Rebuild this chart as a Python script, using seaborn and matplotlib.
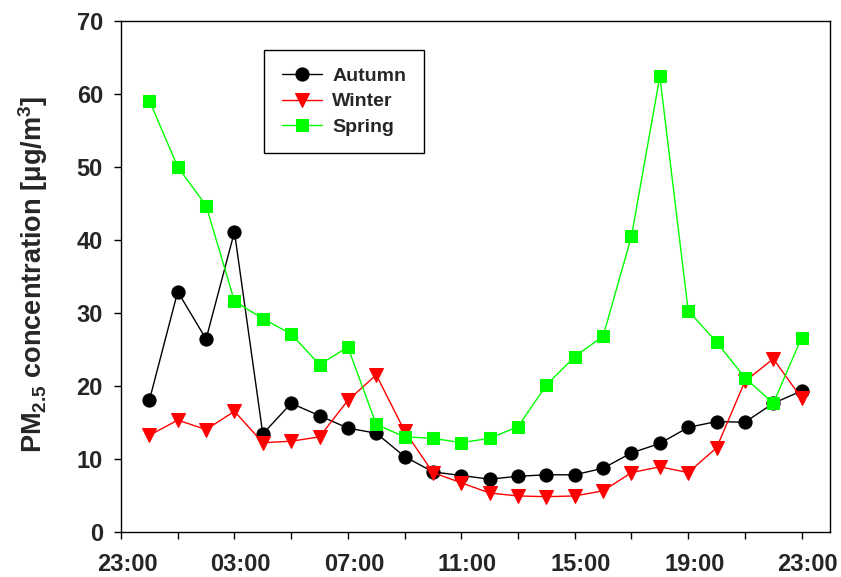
import numpy as np
import pandas as pd
import matplotlib
matplotlib.use("Agg")
import matplotlib.pyplot as plt
import seaborn as sns
from matplotlib.transforms import ScaledTranslation

# Data: hourly positions (1 = 00:00 ... 24 = 23:00); axis position 0 = 23:00 of previous day
hours = list(range(1, 25))
autumn = [18.0, 32.9, 26.4, 41.1, 13.4, 17.6, 15.9, 14.2, 13.5, 10.3, 8.2, 7.7,
          7.2, 7.6, 7.8, 7.8, 8.7, 10.8, 12.1, 14.3, 15.1, 15.0, 17.6, 19.3]
winter = [13.2, 15.3, 14.0, 16.5, 12.2, 12.4, 13.0, 18.0, 21.5, 13.8, 8.1, 6.7,
          5.3, 4.9, 4.8, 4.9, 5.6, 8.1, 8.9, 8.1, 11.5, 20.6, 23.7, 18.3]
spring = [59.1, 50.0, 44.7, 31.6, 29.2, 27.1, 22.9, 25.3, 14.7, 13.0, 12.8, 12.2,
          12.8, 14.4, 20.1, 24.0, 26.8, 40.5, 62.4, 30.3, 26.0, 21.1, 17.6, 26.6]
tick_pos = [0, 4, 8, 12, 16, 20, 24]
tick_labels = ["23:00", "03:00", "07:00", "11:00", "15:00", "19:00", "23:00"]

sns.set_style("ticks")
plt.rcParams["font.family"] = ["Liberation Sans", "DejaVu Sans"]
plt.rcParams["font.weight"] = "bold"
plt.rcParams["mathtext.fontset"] = "custom"
plt.rcParams["mathtext.rm"] = "Liberation Sans:bold"
plt.rcParams["mathtext.bf"] = "Liberation Sans:bold"
plt.rcParams["mathtext.default"] = "bf"

fig = plt.figure(figsize=(8.41, 5.77), dpi=100)
ax = fig.add_axes([121 / 841, 1 - 531.7 / 577, (830 - 121) / 841, (531.7 - 21) / 577])

series = [
    ("Autumn", autumn, "black", "o", 9.5),
    ("Winter", winter, "#ff0000", "v", 9.5),
    ("Spring", spring, "#00ff00", "s", 8.5),
]
for name, vals, col, mk, ms in series:
    sns.lineplot(x=hours, y=vals, ax=ax, color=col, marker=mk, markersize=ms,
                 markeredgecolor=col, markerfacecolor=col, linewidth=1.0,
                 label=name)

ax.set_xlim(0, 25)
ax.set_ylim(0, 70)
ax.set_xticks(tick_pos)
ax.set_xticklabels(tick_labels)
ax.set_xticks([2, 6, 10, 14, 18, 22], minor=True)
ax.set_yticks(np.arange(0, 71, 10))
ax.tick_params(axis="both", which="both", direction="out", width=1.0,
               length=5, labelsize=17, color="black")
ax.tick_params(axis="x", pad=10)
ax.tick_params(axis="y", pad=8)
for lab in ax.get_xticklabels():
    lab.set_fontweight("bold")
    lab.set_transform(lab.get_transform() + ScaledTranslation(6 / 100, 0, fig.dpi_scale_trans))
for lab in ax.get_yticklabels():
    lab.set_fontweight("bold")
for sp in ax.spines.values():
    sp.set_visible(True)
    sp.set_linewidth(1.0)
    sp.set_color("black")

ax.set_xlabel("")
ax.set_ylabel("PM$_{2.5}$ concentration [μg/m$^{3}$]", fontsize=19.5, fontweight="bold")
ax.yaxis.set_label_coords(-0.100, 0.505)

leg = ax.legend(loc="upper left", bbox_to_anchor=((264 - 121) / 709, 1 - (50 - 21) / 510.7),
                frameon=True, fancybox=False, edgecolor="black", framealpha=1,
                prop={"size": 14, "weight": "bold"}, handlelength=2.1,
                borderpad=0.9, labelspacing=0.4, borderaxespad=0, handletextpad=0.5)
leg.get_frame().set_linewidth(1.0)

fig.savefig("out.png", dpi=100)
